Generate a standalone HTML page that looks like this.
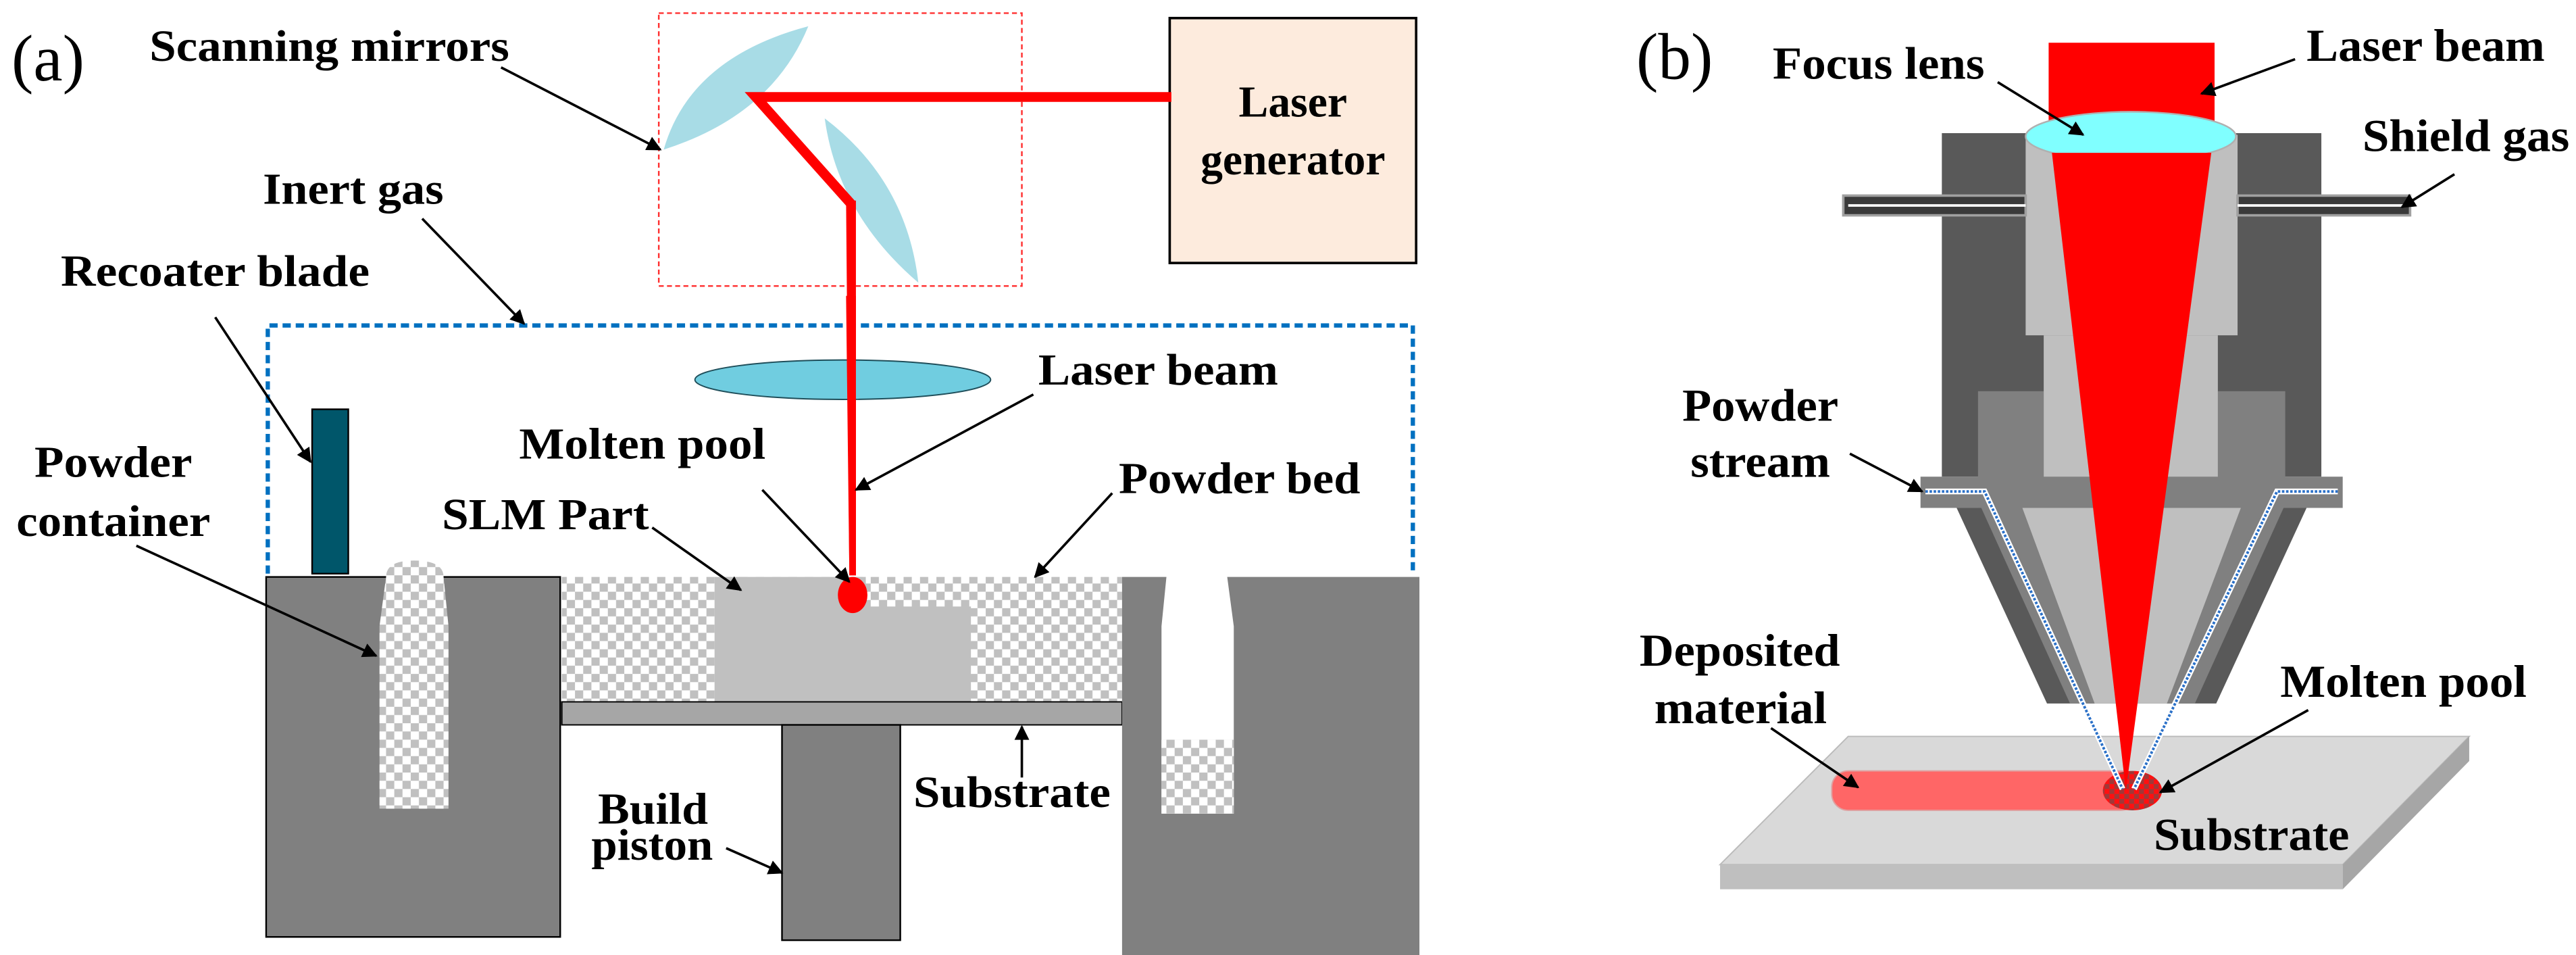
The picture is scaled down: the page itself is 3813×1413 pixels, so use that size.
<!DOCTYPE html>
<html><head><meta charset="utf-8"><style>
html,body{margin:0;padding:0;background:#fff;}
svg{display:block;}
.t text{font-family:"Liberation Serif","DejaVu Serif",serif;}
</style></head><body>
<svg width="3813" height="1413" viewBox="0 0 1568 581" preserveAspectRatio="none" xmlns="http://www.w3.org/2000/svg">
<defs>
<marker id="ah" viewBox="0 0 10 10" refX="9" refY="5" markerWidth="12" markerHeight="9" orient="auto" markerUnits="userSpaceOnUse">
<path d="M0,0 L10,5 L0,10 z" fill="#000"/></marker>
<pattern id="chk" width="10" height="10" patternUnits="userSpaceOnUse">
<rect width="10" height="10" fill="#ffffff"/><rect width="5" height="5" fill="#c0c0c0"/><rect x="5" y="5" width="5" height="5" fill="#c0c0c0"/></pattern>
<pattern id="chkr" width="6" height="6" patternUnits="userSpaceOnUse">
<rect width="6" height="6" fill="#ff1010"/><rect width="3" height="3" fill="#a03838"/><rect x="3" y="3" width="3" height="3" fill="#a03838"/></pattern>
</defs>

<rect x="401" y="8" width="221" height="166" fill="none" stroke="#ff3030" stroke-width="1" stroke-dasharray="3,2"/>
<path d="M404,91 Q420,35 492,16 Q470,70 404,91 z" fill="#a8dce6"/>
<path d="M502,72 Q552,110 559,172 Q510,130 502,72 z" fill="#a8dce6"/>
<rect x="712" y="11" width="150" height="149" fill="#fdebdd" stroke="#000" stroke-width="1.5"/>
<polyline points="713,59 460,59 518,124" fill="none" stroke="#ff0000" stroke-width="6" stroke-linejoin="miter"/>
<polygon points="515,122 521,122 521,350 517,350" fill="#ff0000"/>
<path d="M163,349 L163,198 L860,198 L860,349" fill="none" stroke="#0070c0" stroke-width="2.6" stroke-dasharray="5,3"/>
<rect x="190" y="249" width="22" height="100" fill="#00566a" stroke="#000" stroke-width="1"/>
<ellipse cx="513" cy="231" rx="90" ry="12" fill="#70cde0" stroke="#1f4e5a" stroke-width="0.8"/>
<polygon points="515,180 521,180 521,350 517,350" fill="#ff0000"/>

<rect x="162" y="351" width="179" height="219" fill="#808080" stroke="#000" stroke-width="1"/>
<path d="M235,351 Q235,341 252,341 Q270,341 270,351 L273,381 L273,492 L231,492 L231,381 z" fill="url(#chk)"/>
<rect x="342" y="351" width="341" height="76" fill="url(#chk)"/>
<polygon points="435,351 527,351 527,369 591,369 591,427 435,427" fill="#c0c0c0"/>
<ellipse cx="519" cy="362" rx="9" ry="11" fill="#ff0000"/>
<rect x="342" y="427" width="341" height="14" fill="#a6a6a6" stroke="#000" stroke-width="0.8"/>
<rect x="476" y="441" width="72" height="131" fill="#808080" stroke="#000" stroke-width="1"/>
<path d="M683,351 L710,351 L707,381 L707,495 L751,495 L751,381 L747,351 L864,351 L864,581 L683,581 z" fill="#808080"/>
<rect x="707" y="450" width="44" height="45" fill="url(#chk)"/>

<rect x="1182" y="81" width="231" height="209" fill="#595959"/>
<rect x="1204" y="238" width="40" height="71" fill="#808080"/>
<rect x="1350" y="238" width="41" height="71" fill="#808080"/>
<rect x="1233" y="82" width="129" height="122" fill="#bfbfbf"/>
<rect x="1244" y="204" width="106" height="105" fill="#bfbfbf"/>
<rect x="1122" y="119" width="111" height="12" fill="#3a3a3a" stroke="#a0a0a0" stroke-width="1.5"/>
<rect x="1362" y="119" width="105" height="12" fill="#3a3a3a" stroke="#a0a0a0" stroke-width="1.5"/>
<line x1="1125" y1="125" x2="1233" y2="125" stroke="#fff" stroke-width="1.5"/>
<line x1="1362" y1="125" x2="1464" y2="125" stroke="#fff" stroke-width="1.5"/>
<rect x="1169" y="290" width="257" height="19" fill="#808080"/>
<polygon points="1191,309 1404,309 1349,428 1246,428" fill="#595959"/>
<polygon points="1206,309 1390,309 1336,428 1260,428" fill="#808080"/>
<polygon points="1231,309 1364,309 1319,428 1275,428" fill="#bfbfbf"/>
<polygon points="1125,448 1503,448 1426,526 1047,526" fill="#d9d9d9" stroke="#bbb" stroke-width="0.8"/>
<rect x="1047" y="526" width="379" height="15" fill="#bfbfbf"/>
<polygon points="1426,526 1503,448 1503,463 1426,541" fill="#a6a6a6"/>
<rect x="1115" y="469" width="186" height="24" rx="10" fill="#ff6666" stroke="#e0a0a0" stroke-width="0.8"/>
<ellipse cx="1298" cy="481" rx="18" ry="12" fill="url(#chkr)"/>
<rect x="1247" y="26" width="101" height="60" fill="#ff0000"/>
<ellipse cx="1297" cy="83" rx="64" ry="15" fill="#80ffff" stroke="#b0b0b0" stroke-width="1"/>
<polygon points="1249,93 1346,93 1294,481" fill="#ff0000"/>
<polyline points="1172,299 1208,299 1292,480" fill="none" stroke="#fff" stroke-width="3.5"/>
<polyline points="1172,299 1208,299 1292,480" fill="none" stroke="#2a70c8" stroke-width="1.6" stroke-dasharray="1.5,1"/>
<polyline points="1423,299 1386,299 1299,480" fill="none" stroke="#fff" stroke-width="3.5"/>
<polyline points="1423,299 1386,299 1299,480" fill="none" stroke="#2a70c8" stroke-width="1.6" stroke-dasharray="1.5,1"/>

<g stroke="#000" stroke-width="1.5" marker-end="url(#ah)">
<line x1="305" y1="41" x2="402" y2="91"/>
<line x1="257" y1="133" x2="319" y2="197"/>
<line x1="131" y1="193" x2="189" y2="281"/>
<line x1="629" y1="240" x2="521" y2="298"/>
<line x1="464" y1="298" x2="517" y2="354"/>
<line x1="397" y1="321" x2="451" y2="359"/>
<line x1="677" y1="300" x2="630" y2="351"/>
<line x1="83" y1="332" x2="229" y2="399"/>
<line x1="622" y1="473" x2="622" y2="442"/>
<line x1="442" y1="516" x2="476" y2="531"/>
<line x1="1216" y1="50" x2="1268" y2="82"/>
<line x1="1397" y1="36" x2="1340" y2="57"/>
<line x1="1494" y1="106" x2="1462" y2="126"/>
<line x1="1126" y1="276" x2="1170" y2="299"/>
<line x1="1078" y1="443" x2="1131" y2="479"/>
<line x1="1405" y1="432" x2="1315" y2="482"/>
</g>

<g class="t" style="font-family:'Liberation Serif','DejaVu Serif',serif;font-weight:bold" fill="#000">
<text x="7" y="49" font-size="40" style="font-weight:normal">(a)</text>
<text x="91" y="37" font-size="27" textLength="219" lengthAdjust="spacingAndGlyphs">Scanning mirrors</text>
<text x="787" y="71" font-size="27" text-anchor="middle">Laser</text>
<text x="787" y="106" font-size="27" text-anchor="middle">generator</text>
<text x="160" y="124" font-size="27" textLength="110" lengthAdjust="spacingAndGlyphs">Inert gas</text>
<text x="37" y="174" font-size="27" textLength="188" lengthAdjust="spacingAndGlyphs">Recoater blade</text>
<text x="632" y="234" font-size="27" textLength="146" lengthAdjust="spacingAndGlyphs">Laser beam</text>
<text x="316" y="279" font-size="27" textLength="150" lengthAdjust="spacingAndGlyphs">Molten pool</text>
<text x="269" y="322" font-size="27" textLength="126" lengthAdjust="spacingAndGlyphs">SLM Part</text>
<text x="681" y="300" font-size="27" textLength="147" lengthAdjust="spacingAndGlyphs">Powder bed</text>
<text x="21" y="290" font-size="27" textLength="96" lengthAdjust="spacingAndGlyphs">Powder</text>
<text x="10" y="326" font-size="27" textLength="118" lengthAdjust="spacingAndGlyphs">container</text>
<text x="556" y="491" font-size="27" textLength="120" lengthAdjust="spacingAndGlyphs">Substrate</text>
<text x="364" y="501" font-size="27" textLength="67" lengthAdjust="spacingAndGlyphs">Build</text>
<text x="360" y="523" font-size="27" textLength="74" lengthAdjust="spacingAndGlyphs">piston</text>

<text x="996" y="48" font-size="40" style="font-weight:normal">(b)</text>
<text x="1079" y="48" font-size="28" textLength="129" lengthAdjust="spacingAndGlyphs">Focus lens</text>
<text x="1404" y="37" font-size="28" textLength="145" lengthAdjust="spacingAndGlyphs">Laser beam</text>
<text x="1438" y="92" font-size="28" textLength="126" lengthAdjust="spacingAndGlyphs">Shield gas</text>
<text x="1024" y="256" font-size="28" textLength="95" lengthAdjust="spacingAndGlyphs">Powder</text>
<text x="1029" y="290" font-size="28" textLength="85" lengthAdjust="spacingAndGlyphs">stream</text>
<text x="998" y="405" font-size="28" textLength="122" lengthAdjust="spacingAndGlyphs">Deposited</text>
<text x="1007" y="440" font-size="28" textLength="105" lengthAdjust="spacingAndGlyphs">material</text>
<text x="1388" y="424" font-size="28" textLength="150" lengthAdjust="spacingAndGlyphs">Molten pool</text>
<text x="1311" y="517" font-size="28" textLength="119" lengthAdjust="spacingAndGlyphs">Substrate</text>
</g>
</svg>
</body></html>
